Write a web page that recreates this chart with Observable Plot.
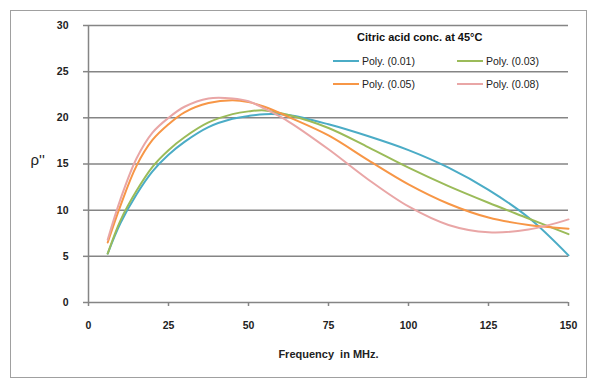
<!DOCTYPE html>
<html>
<head>
<meta charset="utf-8">
<script src="https://cdn.jsdelivr.net/npm/d3@7"></script>
<script src="https://cdn.jsdelivr.net/npm/@observablehq/plot@0.6"></script>
<style>
  html, body { margin: 0; padding: 0; background: #fff; }
  #wrap { position: relative; width: 590px; height: 381px; font-family: "Liberation Sans", Arial, sans-serif; }
  #border { position: absolute; left: 10px; top: 10px; width: 575px; height: 366px; border: 1.5px solid #a0a0a0; pointer-events: none; }
  .ltitle { position: absolute; left: 357px; top: 31px; font-weight: bold; font-size: 11px; color: #111; }
  .item { position: absolute; display: flex; align-items: center; gap: 3px; font-size: 10.5px; color: #222; }
  .swatch { width: 26px; height: 0; border-top: 2.5px solid; }
</style>
</head>
<body>
<div id="wrap"><div id="border"></div></div>
<script>
const freq = [6, 10, 15, 20, 25, 30, 37.5, 45, 50, 55, 62.5, 75, 87.5, 100, 112.5, 125, 137.5, 150];
const seriesNames = ["Poly. (0.01)", "Poly. (0.03)", "Poly. (0.05)", "Poly. (0.08)"];
const colors = ["#4bacc6", "#9bbb59", "#f79646", "#e9a6a6"];
const s001 = [5.3, 8.6, 11.7, 14.2, 16.0, 17.4, 19.0, 19.9, 20.2, 20.4, 20.3, 19.3, 18.0, 16.5, 14.6, 12.2, 9.2, 5.1];
const s003 = [5.3, 8.9, 12.1, 14.7, 16.5, 17.9, 19.5, 20.4, 20.7, 20.8, 20.3, 18.9, 16.8, 14.6, 12.6, 10.8, 9.1, 7.4];
const s005 = [6.5, 10.5, 14.8, 17.6, 19.3, 20.6, 21.6, 21.9, 21.7, 21.2, 20.1, 18.1, 15.4, 12.8, 10.7, 9.2, 8.4, 8.0];
const s008 = [6.8, 11.2, 15.6, 18.4, 20.0, 21.2, 22.1, 22.1, 21.8, 21.0, 19.6, 16.6, 13.3, 10.4, 8.4, 7.6, 7.9, 9.0];
const yTicks = [0, 5, 10, 15, 20, 25, 30];
const xTicks = [0, 25, 50, 75, 100, 125, 150];
const legendTitle = "Citric acid conc. at 45°C";
const xLabel = "Frequency  in MHz.";
const yLabel = "ρ''";

const allSeries = [s001, s003, s005, s008];
const rows = [];
allSeries.forEach((vals, i) => vals.forEach((v, j) => rows.push({f: freq[j], v, s: seriesNames[i]})));

const chart = Plot.plot({
  width: 590,
  height: 381,
  marginLeft: 88,
  marginRight: 22,
  marginTop: 25,
  marginBottom: 79,
  style: {fontFamily: "Liberation Sans, Arial, sans-serif", fontSize: "10.5px", fontWeight: "bold", color: "#222", background: "transparent"},
  x: {domain: [0, 150], ticks: xTicks, tickSize: 4, tickPadding: 15, label: null},
  y: {domain: [0, 30], ticks: yTicks, tickSize: 5, tickPadding: 15, label: null},
  color: {domain: seriesNames, range: colors},
  marks: [
    Plot.ruleY(yTicks, {stroke: "#858585", strokeWidth: 1.5}),
    Plot.ruleX([0], {stroke: "#858585", strokeWidth: 1.5}),
    Plot.line(rows, {x: "f", y: "v", z: "s", stroke: "s", strokeWidth: 2, curve: "catmull-rom"}),
    Plot.text([xLabel], {frameAnchor: "bottom", dy: 55, fontSize: 11, fontWeight: "bold", fill: "#222"}),
    Plot.text([yLabel], {frameAnchor: "left", dx: -58, dy: -4, fontSize: 15, fontWeight: "normal", fill: "#222"})
  ]
});
d3.select(chart).selectAll("[aria-label='x-axis tick'], [aria-label='y-axis tick']").attr("stroke", "#858585").attr("stroke-width", 1.5);
const wrap = document.getElementById("wrap");
wrap.insertBefore(chart, wrap.firstChild);

const t = document.createElement("div");
t.className = "ltitle";
t.textContent = legendTitle;
wrap.appendChild(t);
const pos = [[333, 55], [457, 55], [333, 78], [457, 78]];
seriesNames.forEach((n, i) => {
  const d = document.createElement("div");
  d.className = "item";
  d.style.left = pos[i][0] + "px";
  d.style.top = pos[i][1] + "px";
  const sw = document.createElement("span");
  sw.className = "swatch";
  sw.style.borderColor = colors[i];
  const lab = document.createElement("span");
  lab.textContent = n;
  d.appendChild(sw); d.appendChild(lab);
  wrap.appendChild(d);
});
</script>
</body>
</html>
